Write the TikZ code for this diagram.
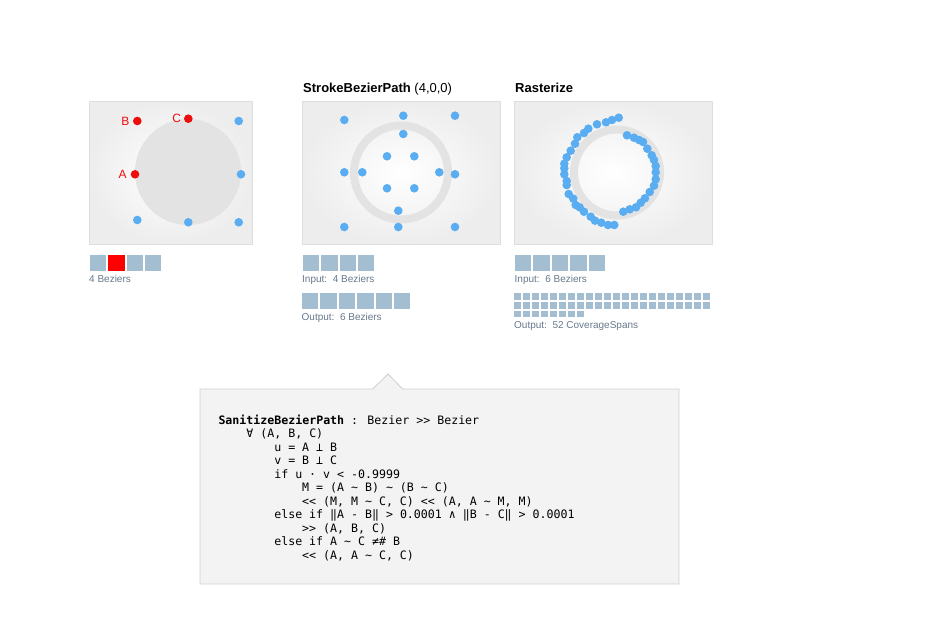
\documentclass[tikz,border=0pt]{standalone}
\usepackage{fontspec}
\setmainfont{Liberation Sans}
\newfontfamily\codefont{DejaVu Sans Mono}
\usepackage{tikz}
\definecolor{dotblue}{rgb}{0.35,0.68,0.94}
\definecolor{dotred}{rgb}{0.93,0.05,0.05}
\definecolor{chipblue}{rgb}{0.64,0.74,0.82}
\definecolor{captgray}{rgb}{0.40,0.47,0.55}
\definecolor{ringgray}{rgb}{0.89,0.89,0.89}
\definecolor{panelline}{rgb}{0.87,0.87,0.87}
\definecolor{boxfill}{rgb}{0.953,0.953,0.953}
\definecolor{boxline}{rgb}{0.81,0.81,0.81}

\tikzset{
  panelbox/.style={draw=panelline,line width=0.8pt},
  bluedot/.style={circle,fill=dotblue,inner sep=0pt,minimum size=8.6pt},
  reddot/.style={circle,fill=dotred,inner sep=0pt,minimum size=8.6pt},
  ptlabel/.style={text=dotred,font=\fontsize{12}{13}\selectfont,inner sep=0pt},
  chip/.style={fill=chipblue},
  redchip/.style={fill=red},
  caption/.style={anchor=base west,inner sep=0pt,text=captgray,font=\fontsize{10}{11}\selectfont},
  title/.style={anchor=base west,inner sep=0pt,font=\fontsize{13}{14}\selectfont},
  codeline/.style={anchor=base west,inner sep=0pt,font=\codefont\fontsize{11.6}{13}\selectfont},
}

\begin{document}
\begin{tikzpicture}[line cap=round,line join=round,x=1pt,y=-1pt]
	\useasboundingbox (0,0) rectangle (929,644);
	% panel backgrounds
	\shade [inner color=white,outer color=black!7] (89,101.5) rectangle (252,244.5);
	\draw [panelbox] (89,101.5) rectangle (252,244.5);
	\shade [inner color=white,outer color=black!7] (302.5,101.5) rectangle (500,244.5);
	\draw [panelbox] (302.5,101.5) rectangle (500,244.5);
	\shade [inner color=white,outer color=black!7] (514.5,101.5) rectangle (712,244.5);
	\draw [panelbox] (514.5,101.5) rectangle (712,244.5);

	% panel 1: input path
	\fill [color=ringgray] (188,172) circle (53pt);
	\node [reddot] (A) at (135,174.3) {};
	\node [reddot] (B) at (137.3,121) {};
	\node [reddot] (C) at (188.3,118.7) {};
	\node [ptlabel] (labA) at (122.7,174) {A};
	\node [ptlabel] (labB) at (125.3,121) {B};
	\node [ptlabel] (labC) at (176.7,118.3) {C};
	\foreach \p [count=\i] in {(238.7,121),(241,174.3),(137.3,220),(188.3,222.3),(238.7,222.3)}
		\node [bluedot] (in\i) at \p {};
	\foreach \i in {0,2,3}
		\fill [chip] (90+18.3*\i,255) rectangle ++(16.3,15.7);
	\fill [redchip] (108.3,255) rectangle ++(16.3,15.7);
	\node [caption] (cap1) at (89,282.5) {4 Beziers};

	% panel 2: StrokeBezierPath
	\node [title] (title2) at (303,92.3) {\textbf{StrokeBezierPath} (4,0,0)};
	\draw [color=ringgray,line width=8pt] (401,172.5) circle (47pt);
	\foreach \p [count=\i] in {(344.3,120),(403.3,115.7),(455,115.7),(403.3,134),
		(387,156.3),(414.3,156.3),(344.3,172.3),(362.3,172.3),(439.3,172.3),(455,174.3),
		(387,188.3),(414.3,188.3),(398.3,210.7),(344.3,227),(398.3,227),(455,227)}
		\node [bluedot] (st\i) at \p {};
	\foreach \i in {0,...,3}
		\fill [chip] (303+18.3*\i,255) rectangle ++(16.3,15.7);
	\node [caption] (cap2in) at (302,282.5) {Input:\ \ 4 Beziers};
	\foreach \i in {0,...,5}
		\fill [chip] (302+18.4*\i,293.3) rectangle ++(16.3,15.7);
	\node [caption] (cap2out) at (301.5,320.5) {Output:\ \ 6 Beziers};

	% panel 3: Rasterize
	\node [title] (title3) at (515,92.3) {\textbf{Rasterize}};
	\draw [color=ringgray,line width=8pt] (617,172.5) circle (43pt);
	\foreach \p [count=\i] in {(618.7,117.7),(612,120),(606,122.3),(597,124.3),(588.3,128.7),
		(584,133),(577.3,137.3),(575,143.7),(570.7,150.7),(566.7,157.3),(564.3,163.7),
		(564.3,168.3),(564.3,174.3),(566.7,181),(566.7,185),(568.7,194),(573.3,198.7),
		(575.7,205),(579.7,207.3),(584,211.7),(590.7,216.7),(595,220.7),(601.3,222.7),
		(608,225),(614.3,225),
		(627,135.3),(634,137.7),(639,140),(643,142),(647.3,148.7),(651.7,155.3),(654,160),
		(655.7,166),(655.7,172.3),(655.7,179.3),(654,185.7),(649.7,192),(645,198.3),
		(640.7,202.7),(636,207.3),(629.7,209.3),(623.3,211.7)}
		\node [bluedot] (rs\i) at \p {};
	\foreach \i in {0,...,4}
		\fill [chip] (515+18.4*\i,255) rectangle ++(16.3,15.7);
	\node [caption] (cap3in) at (514.5,282.5) {Input:\ \ 6 Beziers};
	% 52 coverage spans, 22 per row
	\foreach \i in {0,...,51}{
		\pgfmathtruncatemacro{\col}{mod(\i,22)}
		\pgfmathtruncatemacro{\row}{div(\i,22)}
		\fill [chip] (514+9*\col,293.3+8.7*\row) rectangle ++(6.8,6.6);
	}
	\node [caption] (cap3out) at (514,329) {Output:\ \ 52 CoverageSpans};

	% code box with pointer
	\draw [fill=boxfill,draw=boxline,line width=0.8pt,line join=miter]
		(200,389) -- (372.7,389) -- (388,374) -- (402.7,389) -- (679,389) -- (679,584) -- (200,584) -- cycle;
	\node [codeline] (code1) at (218.3,424) {\textbf{SanitizeBezierPath} : Bezier >{}> Bezier};
	\node [codeline] (code2) at (246.2,437.5) {∀ (A, B, C)};
	\node [codeline] (code3) at (274.1,451) {u = A ⊥ B};
	\node [codeline] (code4) at (274.1,464.5) {v = B ⊥ C};
	\node [codeline] (code5) at (274.1,478) {if u · v < -0.9999};
	\node [codeline] (code6) at (302,491.5) {M = (A \textasciitilde{} B) \textasciitilde{} (B \textasciitilde{} C)};
	\node [codeline] (code7) at (302,505) {<{}< (M, M \textasciitilde{} C, C) <{}< (A, A \textasciitilde{} M, M)};
	\node [codeline] (code8) at (274.1,518.5) {else if ‖A - B‖ > 0.0001 ∧ ‖B - C‖ > 0.0001};
	\node [codeline] (code9) at (302,532) {>{}> (A, B, C)};
	\node [codeline] (code10) at (274.1,545.5) {else if A \textasciitilde{} C ≠\# B};
	\node [codeline] (code11) at (302,559) {<{}< (A, A \textasciitilde{} C, C)};

\end{tikzpicture}
\end{document}
